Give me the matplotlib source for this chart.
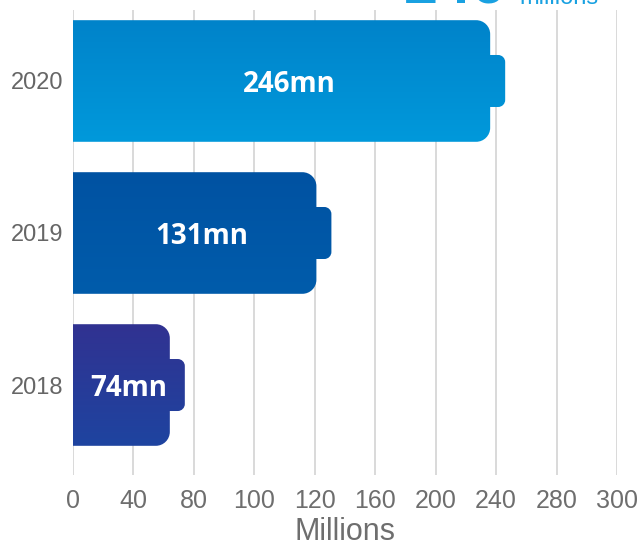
import numpy as np
import matplotlib
matplotlib.use("Agg")
import matplotlib.pyplot as plt
from matplotlib.path import Path
from matplotlib.patches import PathPatch
from matplotlib.transforms import IdentityTransform, blended_transform_factory
from matplotlib.colors import LinearSegmentedColormap

# ---- data -------------------------------------------------------------
years = ["2018", "2019", "2020"]
users_mn = [74, 131, 246]
bar_labels = ["74mn", "131mn", "246mn"]
tick_values = [0, 40, 80, 100, 120, 160, 200, 240, 280, 300]
headline_value = "246"
headline_unit = "millions"
axis_title = "Millions"

# ---- style ------------------------------------------------------------
colors_top = ["#313291", "#0052A2", "#0083CA"]
colors_bottom = ["#1E44A0", "#005CAB", "#0099DB"]
headline_color = "#19A1E1"
text_gray = "#6E6E6E"
grid_gray = "#D9D9D9"

plt.rcParams["font.family"] = ["Liberation Sans", "DejaVu Sans"]

W, H = 643, 547
fig = plt.figure(figsize=(W / 100, H / 100), dpi=100)
ax = fig.add_axes([73 / W, 1 - 475 / H, (617 - 73) / W, (475 - 10) / H])

# evenly spaced ticks: piecewise-linear scale through the tick values
tick_pos = np.arange(len(tick_values), dtype=float)


def fwd(x):
    return np.interp(x, tick_values, tick_pos)


def inv(p):
    return np.interp(p, tick_pos, tick_values)


ax.set_xscale("function", functions=(fwd, inv))
ax.set_xlim(0, 300)
ax.set_ylim(-0.592, 2.467)
ax.set_xticks(tick_values)
ax.set_xticklabels([str(v) for v in tick_values])
ax.set_yticks(range(len(years)))
ax.set_yticklabels(years)

for s in ax.spines.values():
    s.set_visible(False)
ax.xaxis.grid(True, color=grid_gray, lw=1.4)
ax.set_axisbelow(True)
ax.tick_params(axis="x", length=0, pad=10, labelsize=18, labelcolor=text_gray)
ax.tick_params(axis="y", length=0, pad=7, labelsize=17, labelcolor="#666666")
ax.set_xlabel(axis_title, fontsize=22, color=text_gray, labelpad=3)

fig.canvas.draw()

K = 0.5523  # cubic approximation of a quarter circle
bar_h = 0.8


def corner(p_from, p_corner, p_to):
    c1 = (p_from[0] + K * (p_corner[0] - p_from[0]), p_from[1] + K * (p_corner[1] - p_from[1]))
    c2 = (p_to[0] + K * (p_corner[0] - p_to[0]), p_to[1] + K * (p_corner[1] - p_to[1]))
    return [c1, c2, p_to], [Path.CURVE4] * 3


trans_lbl = blended_transform_factory(ax.transAxes, ax.transData)

for i, (val, lab) in enumerate(zip(users_mn, bar_labels)):
    x0, yb = ax.transData.transform((0, i - bar_h / 2))
    xe, yt = ax.transData.transform((val, i + bar_h / 2))
    yc = (yb + yt) / 2
    wn, hn, r, rn = 15, 26, 14, 7
    xb = xe - wn

    verts = [(x0, yb), (xb - r, yb)]
    codes = [Path.MOVETO, Path.LINETO]
    v, c = corner((xb - r, yb), (xb, yb), (xb, yb + r)); verts += v; codes += c
    verts.append((xb, yc - hn)); codes.append(Path.LINETO)
    verts.append((xe - rn, yc - hn)); codes.append(Path.LINETO)
    v, c = corner((xe - rn, yc - hn), (xe, yc - hn), (xe, yc - hn + rn)); verts += v; codes += c
    verts.append((xe, yc + hn - rn)); codes.append(Path.LINETO)
    v, c = corner((xe, yc + hn - rn), (xe, yc + hn), (xe - rn, yc + hn)); verts += v; codes += c
    verts.append((xb, yc + hn)); codes.append(Path.LINETO)
    verts.append((xb, yt - r)); codes.append(Path.LINETO)
    v, c = corner((xb, yt - r), (xb, yt), (xb - r, yt)); verts += v; codes += c
    verts.append((x0, yt)); codes.append(Path.LINETO)
    verts.append((x0, yb)); codes.append(Path.CLOSEPOLY)

    patch = PathPatch(Path(verts, codes), transform=IdentityTransform(),
                      facecolor="none", edgecolor="none")

    cmap = LinearSegmentedColormap.from_list(f"g{i}", [colors_bottom[i], colors_top[i]])
    grad = np.linspace(0, 1, 256).reshape(-1, 1)
    ax0 = ax.transAxes.inverted()
    (ax_x0, ax_y0) = ax0.transform((x0, yb))
    (ax_x1, ax_y1) = ax0.transform((xe, yt))
    im = ax.imshow(grad, cmap=cmap, origin="lower", aspect="auto",
                   extent=[ax_x0, ax_x1, ax_y0, ax_y1], transform=ax.transAxes,
                   interpolation="bilinear", zorder=2)
    im.set_clip_path(patch)

    xc = ax0.transform(((x0 + xe) / 2, yc))[0]
    ax.text(xc, i - 0.02, lab, transform=trans_lbl, ha="center", va="center",
            color="white", fontsize=20, fontweight="bold",
            family=["Open Sans", "DejaVu Sans"], zorder=3)

ax.set_xlim(0, 300)
ax.set_ylim(-0.592, 2.467)

# headline cropped at the top edge
fig.text(404 / W, 1 - 4 / H, headline_value, fontsize=44, fontweight="bold",
         color=headline_color, va="baseline", ha="left")
fig.text(519 / W, 1 - 4 / H, headline_unit, fontsize=17,
         color=headline_color, va="baseline", ha="left")

fig.savefig("out.png", dpi=100)
